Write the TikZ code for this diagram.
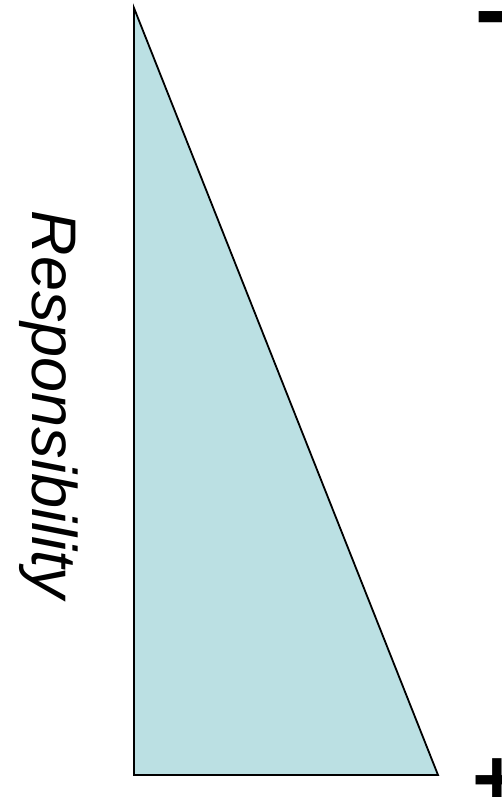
\documentclass[tikz,border=0pt]{standalone}
\usepackage{fontspec}
\setmainfont{Liberation Sans}
\definecolor{trifill}{RGB}{187,224,227}
\begin{document}
\begin{tikzpicture}[x=1pt,y=1pt,
  tri/.style={fill=trifill,draw=black,line width=1.8pt,line join=miter},
  vlabel/.style={rotate=-90,anchor=base,inner sep=0pt,font=\fontsize{63}{70}\selectfont\itshape},
  signlabel/.style={anchor=base west,inner sep=0pt}]
\useasboundingbox (0,0) rectangle (501,797);
\coordinate (top) at (134,789);
\coordinate (bl) at (134,22);
\coordinate (br) at (438,22);
\draw[tri] (top) -- (br) -- (bl) -- cycle;
\node[vlabel] (resp) at (32,392) {Responsibility};
\node[signlabel,font=\fontsize{94}{100}\selectfont\bfseries] (minus) at (475,755) {-};
\node[signlabel,font=\fontsize{85}{90}\selectfont\bfseries] (plus) at (472.5,-11) {+};
\end{tikzpicture}
\end{document}
